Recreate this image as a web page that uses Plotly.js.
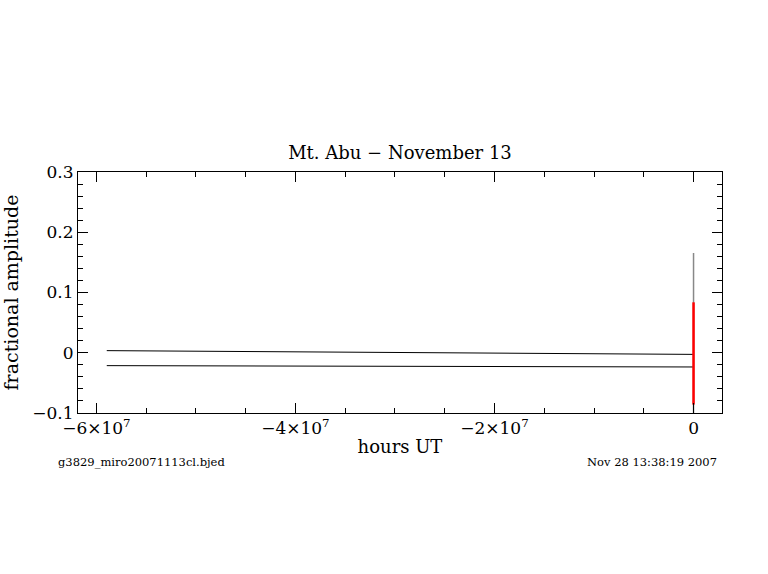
<!DOCTYPE html>
<html><head><meta charset="utf-8">
<script src="https://cdn.plot.ly/plotly-3.0.1.min.js"></script>
<style>body{margin:0;background:#fff}#p{width:768px;height:574px}</style>
</head><body><div id="p"></div>
<script>
// data
const upperX = [-5.896e7, -4.5e7, -3.0e7, -1.5e7, 0];
const upperY = [0.0035, 0.0020, 0.0005, -0.0012, -0.0027];
const lowerX = [-5.896e7, -4.5e7, -3.0e7, -1.5e7, 0];
const lowerY = [-0.0214, -0.0219, -0.0225, -0.0230, -0.0236];
const grayX = [0, 0];
const grayY = [-0.1, 0.1656];
const redX = [0, 0];
const redY = [-0.086, 0.0837];
const titleText = "Mt. Abu \u2212 November 13";
const xTitle = "hours UT";
const yTitle = "fractional amplitude";
const fileLabel = "g3829_miro20071113cl.bjed";
const dateLabel = "Nov 28 13:38:19 2007";

const F = "DejaVu Serif";
const traces = [
  {x: upperX, y: upperY, mode: "lines", line: {color: "#000", width: 1}},
  {x: lowerX, y: lowerY, mode: "lines", line: {color: "#000", width: 1}},
  {x: grayX, y: grayY, mode: "lines", line: {color: "#888", width: 1.5}},
  {x: redX, y: redY, mode: "lines", line: {color: "#f00", width: 2.5}}
];
const axBase = {
  showgrid: false, zeroline: false, showline: true, linecolor: "#000", linewidth: 1,
  mirror: "allticks", ticks: "inside", tickcolor: "#000", tickwidth: 1,
  tickfont: {family: F, size: 17, color: "#000"}
};
const layout = {
  width: 768, height: 574,
  margin: {l: 78, r: 46, t: 172, b: 161},
  paper_bgcolor: "#fff", plot_bgcolor: "#fff",
  showlegend: false,
  font: {family: F, color: "#000"},
  title: {text: titleText, font: {family: F, size: 18, color: "#000"}, x: 400/768, xanchor: "center", y: 1 - 153/574, yanchor: "middle"},
  xaxis: Object.assign({}, axBase, {
    range: [-6.185e7, 2.86e6], tickmode: "linear", tick0: 0, dtick: 2e7, ticklen: 10,
    exponentformat: "power", separatethousands: false,
    minor: {dtick: 5e6, tick0: 0, ticklen: 5, ticks: "inside", tickcolor: "#000"},
    title: {text: xTitle, font: {family: F, size: 18, color: "#000"}, standoff: 2}
  }),
  yaxis: Object.assign({}, axBase, {
    range: [-0.1, 0.3], tickmode: "linear", tick0: 0, dtick: 0.1, ticklen: 10,
    minor: {dtick: 0.02, tick0: 0, ticklen: 5, ticks: "inside", tickcolor: "#000"},
    title: {text: yTitle, font: {family: F, size: 19, color: "#000"}, standoff: 12}
  }),
  annotations: [
    {text: fileLabel, xref: "paper", yref: "paper", x: (56-78)/644, y: (413-462)/241, xanchor: "left", yanchor: "middle", showarrow: false, font: {family: F, size: 11.5, color: "#000"}},
    {text: dateLabel, xref: "paper", yref: "paper", x: (719-78)/644, y: (413-462)/241, xanchor: "right", yanchor: "middle", showarrow: false, font: {family: F, size: 11.5, color: "#000"}}
  ]
};
Plotly.newPlot("p", traces, layout, {displayModeBar: false, staticPlot: true});
</script></body></html>
